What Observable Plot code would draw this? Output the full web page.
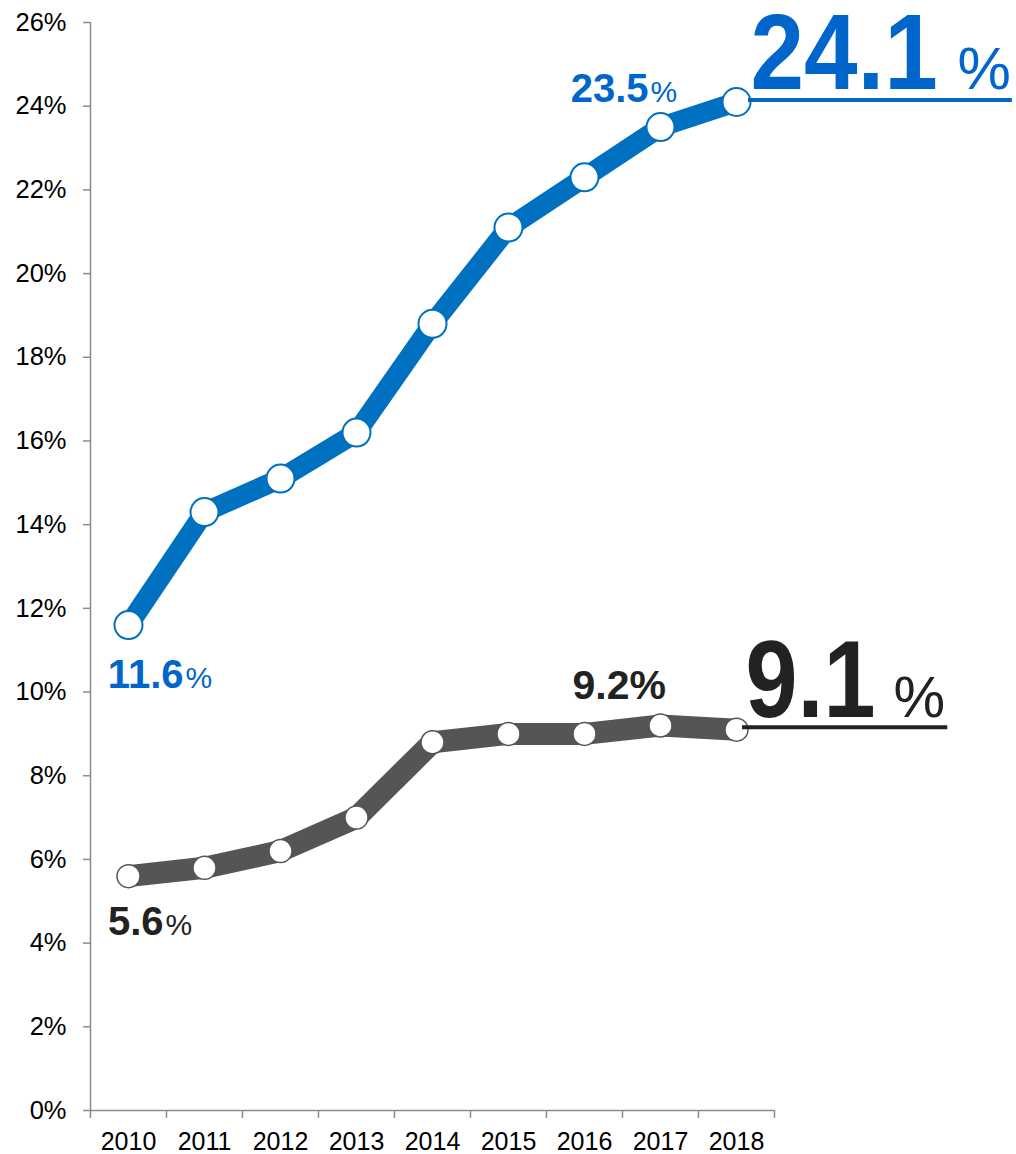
<!DOCTYPE html>
<html><head><meta charset="utf-8">
<script src="https://cdn.jsdelivr.net/npm/d3@7"></script>
<script src="https://cdn.jsdelivr.net/npm/@observablehq/plot@0.6"></script>
<style>
html,body{margin:0;padding:0;background:#fff;}
#chart svg{display:block;}
g[aria-label="y-axis tick"], g[aria-label="x-axis tick"]{stroke:#8c8c8c;stroke-width:1.5px;}
</style></head><body><div id="chart"></div>
<script>
// ---- data ----
const years = [2010, 2011, 2012, 2013, 2014, 2015, 2016, 2017, 2018];
const blueValues = [11.6, 14.3, 15.1, 16.2, 18.8, 21.1, 22.3, 23.5, 24.1];
const grayValues = [5.6, 5.8, 6.2, 7.0, 8.8, 9.0, 9.0, 9.2, 9.1];
const yTicks = [0, 2, 4, 6, 8, 10, 12, 14, 16, 18, 20, 22, 24, 26];
const xBoundaries = [2009.5, 2010.5, 2011.5, 2012.5, 2013.5, 2014.5, 2015.5, 2016.5, 2017.5, 2018.5];

// ---- styles ----
const BLUE = "#0070c0", BLUE_TEXT = "#0066cc", GRAY = "#555555", DARK = "#222222", AXIS = "#8c8c8c";
const FONT = "'Liberation Sans', Arial, Helvetica, sans-serif";
const BIG_BLUE = 107, BIG_GRAY = 110;

const blue = years.map((year, i) => ({year, value: blueValues[i]}));
const gray = years.map((year, i) => ({year, value: grayValues[i]}));
const first = 0, peak = 7, last = years.length - 1;
const fmt = d => d.value.toFixed(1);

function label(row, opts) {
  return Plot.text([row], {x: "year", y: "value", lineAnchor: "bottom", ...opts});
}

const chart = Plot.plot({
  width: 1016, height: 1154,
  marginLeft: 90, marginRight: 242, marginTop: 22, marginBottom: 44,
  x: {type: "linear", domain: [xBoundaries[0], xBoundaries[xBoundaries.length - 1]], label: null},
  y: {domain: [yTicks[0], yTicks[yTicks.length - 1]], label: null},
  style: {fontFamily: FONT, background: "white", color: "black", overflow: "visible"},
  marks: [
    Plot.ruleX([xBoundaries[0]], {stroke: AXIS, strokeWidth: 1.5}),
    Plot.ruleY([0], {stroke: AXIS, strokeWidth: 1.5}),
    Plot.axisY({ticks: yTicks, tickSize: 7, tickPadding: 17, tickFormat: d => d + "%", fontSize: 25.5, label: null}),
    Plot.axisX({ticks: xBoundaries, tickSize: 8, tickFormat: () => "", label: null}),
    Plot.axisX({ticks: years, tickSize: 0, tickPadding: 21.5, tickFormat: d => String(d), fontSize: 25, label: null}),

    Plot.line(blue, {x: "year", y: "value", stroke: BLUE, strokeWidth: 20}),
    Plot.line(gray, {x: "year", y: "value", stroke: GRAY, strokeWidth: 22}),
    Plot.dot(blue, {x: "year", y: "value", r: 14, fill: "white", stroke: BLUE, strokeWidth: 2}),
    Plot.dot(gray, {x: "year", y: "value", r: 11.5, fill: "white", stroke: GRAY, strokeWidth: 1.5}),

    // underlines for final values
    Plot.ruleY([blue[last]], {y: "value", x1: "year", x2: d => d.year + 3.63, insetLeft: 12, dy: -2, stroke: BLUE_TEXT, strokeWidth: 4}),
    Plot.ruleY([gray[last]], {y: "value", x1: "year", x2: d => d.year + 2.78, insetLeft: 6, dy: -2.5, stroke: DARK, strokeWidth: 4}),

    // blue labels
    label(blue[first], {text: fmt, textAnchor: "end", dx: 55, dy: 63, fontSize: 40, fontWeight: "bold", fill: BLUE_TEXT}),
    label(blue[first], {text: () => "%", textAnchor: "start", dx: 57, dy: 63, fontSize: 30, fill: BLUE_TEXT}),
    label(blue[peak], {text: fmt, textAnchor: "end", dx: -12, dy: -25, fontSize: 40, fontWeight: "bold", fill: BLUE_TEXT}),
    label(blue[peak], {text: () => "%", textAnchor: "start", dx: -10, dy: -25, fontSize: 30, fill: BLUE_TEXT}),
    label(blue[last], {text: fmt, textAnchor: "start", dx: 14, dy: -13.5, fontSize: BIG_BLUE, fontWeight: "bold", fill: BLUE_TEXT}),
    label(blue[last], {text: () => "%", textAnchor: "start", dx: 221, dy: -13.5, fontSize: 60, fill: BLUE_TEXT}),

    // gray labels
    label(gray[first], {text: fmt, textAnchor: "end", dx: 35, dy: 59, fontSize: 40, fontWeight: "bold", fill: DARK}),
    label(gray[first], {text: () => "%", textAnchor: "start", dx: 37, dy: 59, fontSize: 30, fill: DARK}),
    label(gray[peak], {text: d => fmt(d) + "%", textAnchor: "start", dx: -88, dy: -27, fontSize: 41, fontWeight: "bold", fill: DARK}),
    label(gray[last], {text: fmt, textAnchor: "start", dx: 9, dy: -12.5, fontSize: BIG_GRAY, fontWeight: "bold", fill: DARK}),
    label(gray[last], {text: () => "%", textAnchor: "start", dx: 157, dy: -12.5, fontSize: 58, fill: DARK})
  ]
});

// horizontally condense the large headline numbers (as in the reference)
function condense(fontSize, k) {
  chart.querySelectorAll("text").forEach(t => {
    const g = t.closest("[font-size]");
    if (!g || +g.getAttribute("font-size") !== fontSize) return;
    const x = +(t.getAttribute("x") || 0);
    const tr = t.getAttribute("transform") || "";
    t.setAttribute("transform", `${tr} translate(${x},0) scale(${k},1) translate(${-x},0)`);
  });
}
condense(BIG_BLUE, 0.9);
condense(BIG_GRAY, 0.85);
document.getElementById("chart").appendChild(chart);
</script>
</body></html>
